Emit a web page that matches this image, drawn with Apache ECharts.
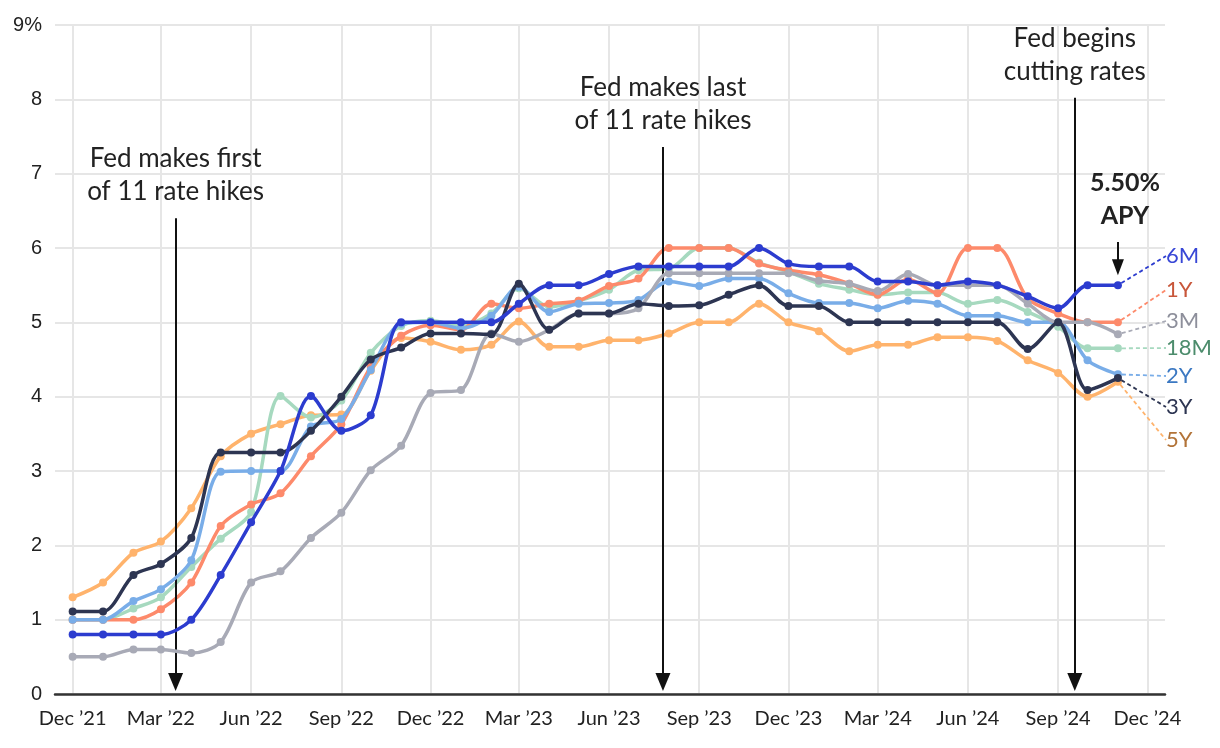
<!DOCTYPE html>
<html>
<head>
<meta charset="utf-8">
<script src="https://cdn.jsdelivr.net/npm/echarts@6/dist/echarts.min.js"></script>
<style>
html,body{margin:0;padding:0;background:#fff;}
#chart{width:1220px;height:748px;}
</style>
</head>
<body>
<div id="chart"></div>
<script>
// ---- data ----
const months = ['2021-12-01','2022-01-01','2022-02-01','2022-03-01','2022-04-01','2022-05-01','2022-06-01','2022-07-01','2022-08-01','2022-09-01','2022-10-01','2022-11-01',
  '2022-12-01','2023-01-01','2023-02-01','2023-03-01','2023-04-01','2023-05-01','2023-06-01','2023-07-01','2023-08-01','2023-09-01','2023-10-01','2023-11-01',
  '2023-12-01','2024-01-01','2024-02-01','2024-03-01','2024-04-01','2024-05-01','2024-06-01','2024-07-01','2024-08-01','2024-09-01','2024-10-01','2024-11-01'];

const rate3M  = [0.50,0.50,0.60,0.60,0.55,0.70,1.50,1.65,2.10,2.44,3.01,3.34,4.05,4.09,4.85,4.74,4.90,5.12,5.12,5.19,5.66,5.66,5.66,5.66,5.66,5.56,5.52,5.42,5.65,5.50,5.50,5.50,5.25,5.00,5.00,4.84];
const rate6M  = [0.80,0.80,0.80,0.80,1.00,1.60,2.31,3.00,4.01,3.54,3.75,5.00,5.00,5.00,5.00,5.25,5.50,5.50,5.65,5.75,5.75,5.75,5.75,6.00,5.79,5.75,5.75,5.55,5.55,5.50,5.55,5.50,5.35,5.19,5.50,5.50];
const rate1Y  = [1.00,1.00,1.00,1.14,1.50,2.26,2.55,2.70,3.20,3.63,4.40,4.82,4.96,4.90,5.25,5.19,5.25,5.29,5.49,5.59,6.00,6.00,6.00,5.79,5.70,5.64,5.52,5.37,5.58,5.39,6.00,6.00,5.32,5.12,5.00,5.00];
const rate18M = [1.00,1.00,1.15,1.30,1.71,2.09,2.45,4.01,3.72,3.95,4.59,4.95,5.02,4.96,5.12,5.46,5.21,5.29,5.44,5.70,5.72,6.00,6.00,5.80,5.68,5.52,5.44,5.37,5.40,5.40,5.25,5.30,5.14,4.94,4.65,4.65];
const rate2Y  = [1.00,1.00,1.25,1.41,1.80,2.99,3.00,3.00,3.60,3.70,4.36,4.98,5.00,4.92,5.09,5.48,5.14,5.25,5.26,5.30,5.55,5.49,5.59,5.59,5.39,5.26,5.26,5.19,5.29,5.25,5.09,5.09,5.00,5.00,4.49,4.30];
const rate3Y  = [1.11,1.11,1.60,1.75,2.10,3.25,3.25,3.25,3.54,4.00,4.50,4.66,4.85,4.85,4.84,5.52,4.90,5.12,5.12,5.25,5.22,5.23,5.37,5.50,5.22,5.22,5.00,5.00,5.00,5.00,5.00,5.00,4.64,5.00,4.09,4.25];
const rate5Y  = [1.30,1.50,1.90,2.05,2.50,3.20,3.50,3.63,3.75,3.76,4.35,4.79,4.74,4.63,4.70,5.01,4.67,4.67,4.76,4.76,4.85,5.00,5.00,5.25,5.00,4.88,4.61,4.70,4.70,4.80,4.80,4.75,4.49,4.32,4.00,4.20];

const tickDates  = ['2021-12-01','2022-03-01','2022-06-01','2022-09-01','2022-12-01','2023-03-01','2023-06-01','2023-09-01','2023-12-01','2024-03-01','2024-06-01','2024-09-01','2024-12-01'];
const tickLabels = ['Dec ’21','Mar ’22','Jun ’22','Sep ’22','Dec ’22','Mar ’23','Jun ’23','Sep ’23','Dec ’23','Mar ’24','Jun ’24','Sep ’24','Dec ’24'];

const eventDates = ['2022-03-16','2023-07-26','2024-09-18'];
const eventTexts = ['Fed makes first\nof 11 rate hikes','Fed makes last\nof 11 rate hikes','Fed begins\ncutting rates'];
const apyText = '5.50%\nAPY';

// ---- layout / style ----
function d(s){ const p = s.split('-').map(Number); return new Date(p[0], p[1]-1, p[2]).getTime(); }
const FONT = 'Lato';
const eventTop = [6.40, 7.36, 8.02];
const endLabelY = {'6M':256,'1Y':290,'3M':321,'18M':348,'2Y':376,'3Y':407,'5Y':440};
const tickTimes = tickDates.map(d);

const defs = [
  {name:'5Y',  vals:rate5Y,  color:'#ffb36c', text:'#b27338'},
  {name:'18M', vals:rate18M, color:'#a6d9bf', text:'#4c8c6c'},
  {name:'1Y',  vals:rate1Y,  color:'#fd8a6b', text:'#c8563a'},
  {name:'2Y',  vals:rate2Y,  color:'#79ade8', text:'#3b78c2'},
  {name:'3M',  vals:rate3M,  color:'#a8aab6', text:'#8d8f9b'},
  {name:'3Y',  vals:rate3Y,  color:'#2d3552', text:'#2d3552'},
  {name:'6M',  vals:rate6M,  color:'#2c3ccf', text:'#3847d6'}
];
const last = months.length - 1;

const series = defs.map(function(s, si){
  const data = months.map(function(m, i){
    const item = {value:[d(m), s.vals[i]]};
    if (i === last) {
      item.label = {show:true, formatter:s.name, color:s.text, fontSize:22, fontFamily:FONT};
      item.labelLine = {show:true, length2:0, lineStyle:{color:s.color, width:1.8, type:[4,3]}};
    }
    return item;
  });
  const ser = {
    name:s.name, type:'line', data:data, smooth:0.3,
    symbol:'circle', symbolSize:8, showAllSymbol:true,
    lineStyle:{width:3.5, color:s.color}, itemStyle:{color:s.color},
    label:{show:false}, emphasis:{disabled:true}, silent:true, animation:false,
    z: 2 + si,
    labelLayout:function(p){
      if (p.dataIndex !== last) return {};
      return {x:1166, y:endLabelY[s.name], align:'left', verticalAlign:'middle'};
    }
  };
  if (s.name === '6M') {
    const mlData = eventDates.map(function(ed, i){
      return [
        {coord:[d(ed), eventTop[i]], symbol:'none', label:{formatter:eventTexts[i]}},
        {coord:[d(ed), 0.16], symbol:'triangle', symbolSize:[15,18]}
      ];
    });
    mlData.push([
      {coord:[d(months[last]), 6.08], symbol:'none', label:{formatter:apyText, fontWeight:'bold', fontSize:25, lineHeight:33, offset:[7,0]}},
      {coord:[d(months[last]), 5.74], symbol:'triangle', symbolSize:[12,16]}
    ]);
    ser.markLine = {
      silent:true, animation:false, precision:2,
      lineStyle:{color:'#111', width:2, type:'solid'},
      label:{show:true, position:'start', distance:10, fontSize:26, lineHeight:33, fontFamily:FONT, color:'#222'},
      emphasis:{disabled:true},
      data:mlData
    };
  }
  return ser;
});

const chart = echarts.init(document.getElementById('chart'));
chart.setOption({
  backgroundColor:'#fff',
  animation:false,
  grid:{left:55, right:55, top:25, bottom:54, containLabel:false},
  xAxis:{
    type:'value', min:d('2021-11-13'), max:d('2024-12-19'),
    axisLine:{show:true, onZero:true, lineStyle:{color:'#333', width:2.5}},
    axisTick:{show:false, customValues:tickTimes},
    axisLabel:{customValues:tickTimes, margin:15, fontSize:20, fontFamily:FONT, color:'#222',
      formatter:function(v){ const i = tickTimes.indexOf(v); return i >= 0 ? tickLabels[i] : ''; }},
    splitLine:{show:true, lineStyle:{color:'#e6e6e6', width:2}}
  },
  yAxis:{
    type:'value', min:0, max:9, interval:1,
    axisLine:{show:false}, axisTick:{show:false},
    axisLabel:{margin:13, fontSize:20, fontFamily:'Liberation Sans', color:'#222',
      formatter:function(v){ return v === 9 ? '9%' : String(v); }},
    splitLine:{show:true, lineStyle:{color:'#e6e6e6', width:2}}
  },
  series:series
});
</script>
</body>
</html>
